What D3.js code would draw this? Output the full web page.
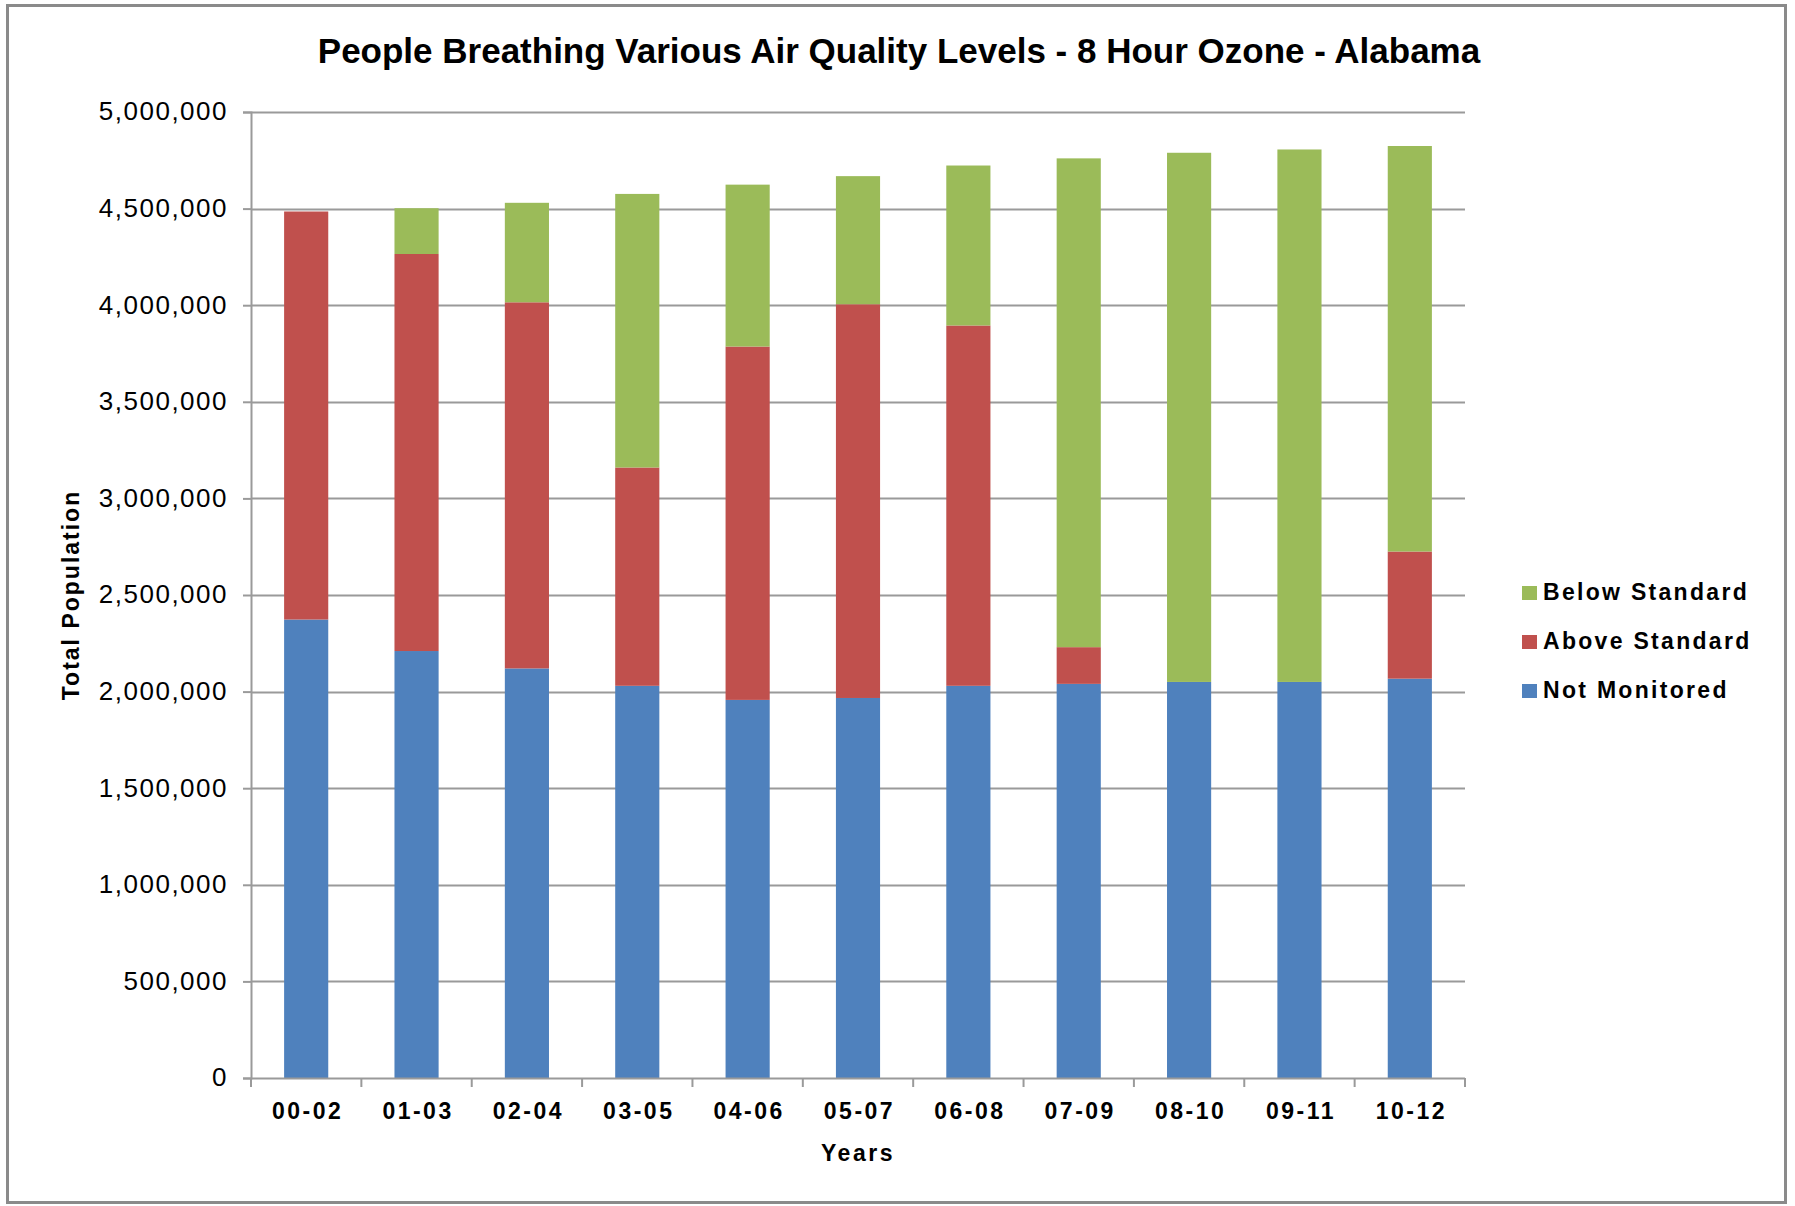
<!DOCTYPE html>
<html>
<head>
<meta charset="utf-8">
<script src="https://cdn.jsdelivr.net/npm/d3@7"></script>
<style>
  html, body { margin: 0; padding: 0; background: #fff; }
  svg { display: block; }
  text { font-family: "Liberation Sans", Arial, sans-serif; fill: #000; }
</style>
</head>
<body>
<svg id="chart" width="1795" height="1206"></svg>
<script>
// Three-year periods
const years = ["00-02", "01-03", "02-04", "03-05", "04-06", "05-07", "06-08", "07-09", "08-10", "09-11", "10-12"];

// Population counts per category (people)
const notMonitored  = [2373000, 2210000, 2120000, 2030000, 1957000, 1967000, 2030000, 2040000, 2050000, 2050000, 2067000];
const aboveStandard = [2112000, 2055000, 1895000, 1130000, 1829000, 2038000, 1865000,  190000,       0,       0,  658000];
const belowStandard = [      0,  237000,  515000, 1416000,  838000,  663000,  828000, 2530000, 2739000, 2756000, 2099000];

const seriesNames  = ["Not Monitored", "Above Standard", "Below Standard"];
const seriesColors = ["#4F81BD", "#C0504D", "#9BBB59"];

const yTicks = [0, 500000, 1000000, 1500000, 2000000, 2500000, 3000000, 3500000, 4000000, 4500000, 5000000];

const W = 1795, H = 1206;
const margin = { left: 251, right: 330, top: 112, bottom: 128 };
const plotW = W - margin.left - margin.right;
const plotH = H - margin.top - margin.bottom;

const svg = d3.select("#chart");

// outer frame
svg.append("rect")
  .attr("x", 7.5).attr("y", 5.5)
  .attr("width", W - 17).attr("height", H - 9)
  .attr("fill", "#fff")
  .attr("stroke", "#8a8a8a")
  .attr("stroke-width", 3);

const rows = years.map((y, i) => ({
  year: y,
  "Not Monitored": notMonitored[i],
  "Above Standard": aboveStandard[i],
  "Below Standard": belowStandard[i]
}));

const stacked = d3.stack().keys(seriesNames)(rows);

const x = d3.scaleBand().domain(years).range([0, plotW]).paddingInner(0.6).paddingOuter(0.3);
const xEdge = d3.scaleLinear().domain([0, years.length]).range([0, plotW]);
const y = d3.scaleLinear().domain([0, 5000000]).range([plotH, 0]);

const g = svg.append("g").attr("transform", `translate(${margin.left},${margin.top})`);

// horizontal gridlines
g.append("g").selectAll("line")
  .data(yTicks.filter(t => t > 0))
  .join("line")
  .attr("x1", 0).attr("x2", plotW)
  .attr("y1", d => Math.round(y(d)) + 0.5).attr("y2", d => Math.round(y(d)) + 0.5)
  .attr("stroke", "#9a9a9a")
  .attr("stroke-width", 2);

// stacked bars
g.append("g").selectAll("g")
  .data(stacked)
  .join("g")
  .attr("fill", (d, i) => seriesColors[i])
  .selectAll("rect")
  .data(d => d.filter(p => p[1] - p[0] > 0))
  .join("rect")
  .attr("x", d => x(d.data.year))
  .attr("width", x.bandwidth())
  .attr("y", d => y(d[1]))
  .attr("height", d => y(d[0]) - y(d[1]));

// y axis
const fmt = d3.format(",");
const yAxis = g.append("g")
  .call(d3.axisLeft(y).tickValues(yTicks).tickFormat(fmt).tickSize(8).tickPadding(15));
yAxis.select(".domain").attr("stroke", "#9a9a9a").attr("stroke-width", 2);
yAxis.selectAll(".tick line").attr("stroke", "#9a9a9a").attr("stroke-width", 2);
yAxis.selectAll(".tick text")
  .style("font-family", "'Liberation Sans', Arial, sans-serif")
  .style("font-size", "26px")
  .style("letter-spacing", "1.5px")
  .attr("dy", "0.3em")
  .attr("fill", "#000");

// x axis with ticks on category boundaries
const xAxisG = g.append("g").attr("transform", `translate(0,${plotH})`);
xAxisG.append("line")
  .attr("x1", 0).attr("x2", plotW).attr("y1", 0.5).attr("y2", 0.5)
  .attr("stroke", "#9a9a9a").attr("stroke-width", 2);
xAxisG.selectAll("line.tk")
  .data(d3.range(years.length + 1))
  .join("line")
  .attr("class", "tk")
  .attr("x1", d => xEdge(d)).attr("x2", d => xEdge(d))
  .attr("y1", 0).attr("y2", 9)
  .attr("stroke", "#9a9a9a").attr("stroke-width", 2);
xAxisG.selectAll("text")
  .data(years)
  .join("text")
  .attr("x", d => x(d) + x.bandwidth() / 2 + 1.5)
  .attr("y", 1119 - margin.top - plotH)
  .attr("text-anchor", "middle")
  .style("font-size", "23px")
  .style("font-weight", "bold")
  .style("letter-spacing", "2.5px")
  .text(d => d);

// title
svg.append("text")
  .attr("x", 899).attr("y", 63)
  .attr("text-anchor", "middle")
  .style("font-size", "35px")
  .style("font-weight", "bold")
  .text("People Breathing Various Air Quality Levels - 8 Hour Ozone - Alabama");

// axis titles
svg.append("text")
  .attr("transform", `translate(79,${margin.top + plotH / 2}) rotate(-90)`)
  .attr("text-anchor", "middle")
  .style("font-size", "23px")
  .style("font-weight", "bold")
  .style("letter-spacing", "2px")
  .text("Total Population");

svg.append("text")
  .attr("x", margin.left + plotW / 2).attr("y", 1161)
  .attr("text-anchor", "middle")
  .style("font-size", "23px")
  .style("font-weight", "bold")
  .style("letter-spacing", "2.5px")
  .text("Years");

// legend (top entry is the top of the stack)
const legendItems = seriesNames.slice().reverse();
const legendColors = seriesColors.slice().reverse();
const legend = svg.append("g").attr("transform", "translate(1522,600)");
legendItems.forEach((name, i) => {
  const row = legend.append("g").attr("transform", `translate(0,${i * 49})`);
  row.append("rect").attr("x", 0).attr("y", -14).attr("width", 15).attr("height", 14)
    .attr("fill", legendColors[i]);
  row.append("text").attr("x", 21).attr("y", 0)
    .style("font-size", "23px")
    .style("font-weight", "bold")
    .style("letter-spacing", "2.3px")
    .text(name);
});
</script>
</body>
</html>
